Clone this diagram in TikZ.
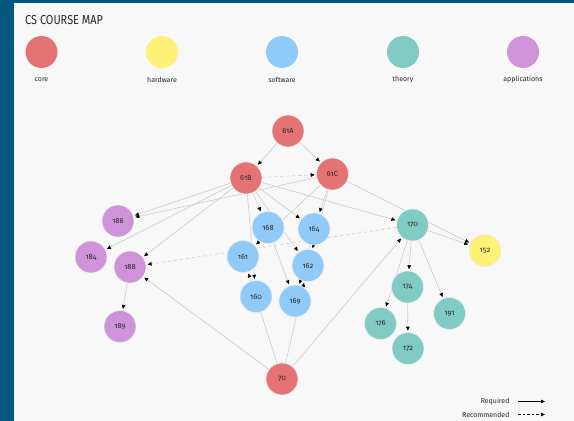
\documentclass[tikz,border=0pt]{standalone}
\usepackage{fontspec}
\setmainfont{Fira Sans}
\newfontfamily\titlefont[FakeStretch=0.84]{Fira Sans}
\newfontfamily\numfont[Numbers=OldStyle]{Fira Sans}
\usetikzlibrary{arrows.meta}
\definecolor{frame}{RGB}{3,88,128}
\definecolor{panel}{RGB}{248,248,248}
\definecolor{core}{HTML}{E57373}
\definecolor{hw}{HTML}{FFF176}
\definecolor{sw}{HTML}{90CAF9}
\definecolor{th}{HTML}{80CBC4}
\definecolor{app}{HTML}{CE93D8}
\definecolor{edge}{RGB}{205,205,205}
\definecolor{txt}{RGB}{40,40,40}
\pgfdeclarelayer{bg}
\pgfsetlayers{bg,main}
\tikzset{
  course/.style={circle, minimum size=32pt, inner sep=0pt, draw=black!7, line width=0.6pt,
     font=\numfont\fontsize{7.5}{8}\selectfont, text=txt},
  legcirc/.style={circle, minimum size=32pt, inner sep=0pt},
  leglabel/.style={font=\fontsize{7}{8}\selectfont, text=txt},
  req/.style={draw=edge, line width=0.6pt, -{Triangle[length=4pt,width=3.6pt,color=black]}, shorten >=1.5pt},
  rec/.style={req, dash pattern=on 3pt off 3pt},
}
\begin{document}
\begin{tikzpicture}[x=1pt,y={(0pt,-1pt)}]
\useasboundingbox (0,0) rectangle (574,421);
\begin{pgfonlayer}{bg}
\fill[frame] (0,0) rectangle (574,421);
\fill[panel] (14,3) rectangle (574,421);
\end{pgfonlayer}
% title
\node[anchor=base west, font=\titlefont\fontsize{13}{14}\selectfont, text=txt, inner sep=0pt] (title) at (25,24) {CS COURSE MAP};
% legend of groups
\node[legcirc, fill=core] (lcore) at (41.5,52) {};
\node[legcirc, fill=hw] (lhw) at (162,52) {};
\node[legcirc, fill=sw] (lsw) at (282,52) {};
\node[legcirc, fill=th] (lth) at (403,52) {};
\node[legcirc, fill=app] (lapp) at (523,52) {};
\node[leglabel] (tcore) at (41.5,80) {core};
\node[leglabel] (thw) at (162,80) {hardware};
\node[leglabel] (tsw) at (282,80) {software};
\node[leglabel] (tth) at (403,80) {theory};
\node[leglabel] (tapp) at (523,80) {applications};
% course nodes
\node[course, fill=core] (n61A) at (288,131) {61A};
\node[course, fill=core] (n61B) at (246,178) {61B};
\node[course, fill=core] (n61C) at (332.5,174) {61C};
\node[course, fill=sw] (n168) at (268,227.5) {168};
\node[course, fill=sw] (n164) at (314,229) {164};
\node[course, fill=sw] (n161) at (243,256.5) {161};
\node[course, fill=sw] (n162) at (308,265.5) {162};
\node[course, fill=sw] (n160) at (256,296.5) {160};
\node[course, fill=sw] (n169) at (295,301) {169};
\node[course, fill=app] (n186) at (118,221) {186};
\node[course, fill=app] (n184) at (91,257) {184};
\node[course, fill=app] (n188) at (130,267) {188};
\node[course, fill=app] (n189) at (120,326.5) {189};
\node[course, fill=th] (n170) at (412.5,225) {170};
\node[course, fill=hw] (n152) at (485,250.5) {152};
\node[course, fill=th] (n174) at (407.5,287) {174};
\node[course, fill=th] (n176) at (380.5,323.5) {176};
\node[course, fill=th] (n191) at (449.5,313.5) {191};
\node[course, fill=th] (n172) at (408,348.5) {172};
\node[course, fill=core] (n70) at (282,379) {70};
% edges
\begin{pgfonlayer}{bg}
\draw[req] (n61A) -- (n61B);
\draw[req] (n61A) -- (n61C);
\draw[rec] (n61B) -- (n61C);
\draw[req] (n61B) -- (n186);
\draw[req] (n61C) -- (n186);
\draw[req] (n61B) -- (n184);
\draw[req] (n61B) -- (n188);
\draw[req] (n61B) -- (n168);
\draw[req] (n61B) -- (n164);
\draw[req] (n61B) -- (n162);
\draw[req] (n61B) -- (n160);
\draw[req] (n61B) -- (n170);
\draw[req] (n61C) -- (n161);
\draw[req] (n61C) -- (n164);
\draw[req] (n61C) -- (n162);
\draw[req] (n61C) -- (n152);
\draw[req] (n168) -- (n169);
\draw[req] (n164) -- (n169);
\draw[req] (n70) -- (n161);
\draw[req] (n70) -- (n162);
\draw[req] (n70) -- (n188);
\draw[req] (n70) -- (n170);
\draw[rec] (n170) -- (n188);
\draw[req] (n188) -- (n189);
\draw[req] (n170) -- (n152);
\draw[req] (n170) -- (n174);
\draw[req] (n170) -- (n176);
\draw[req] (n170) -- (n191);
\draw[req] (n174) -- (n172);
\end{pgfonlayer}
% legend of connectors
\node[leglabel, anchor=east] (lreq) at (513,401.5) {Required};
\node[leglabel, anchor=east] (lrec) at (513,414.5) {Recommended};
\coordinate (reqA) at (518,401.5);
\coordinate (reqB) at (545,401.5);
\coordinate (recA) at (518,414.5);
\coordinate (recB) at (545,414.5);
\draw[line width=0.8pt, -{Triangle[length=4pt,width=3.6pt]}] (reqA) -- (reqB);
\draw[line width=0.8pt, dash pattern=on 2.5pt off 2pt, -{Triangle[length=4pt,width=3.6pt]}] (recA) -- (recB);
\end{tikzpicture}
\end{document}
